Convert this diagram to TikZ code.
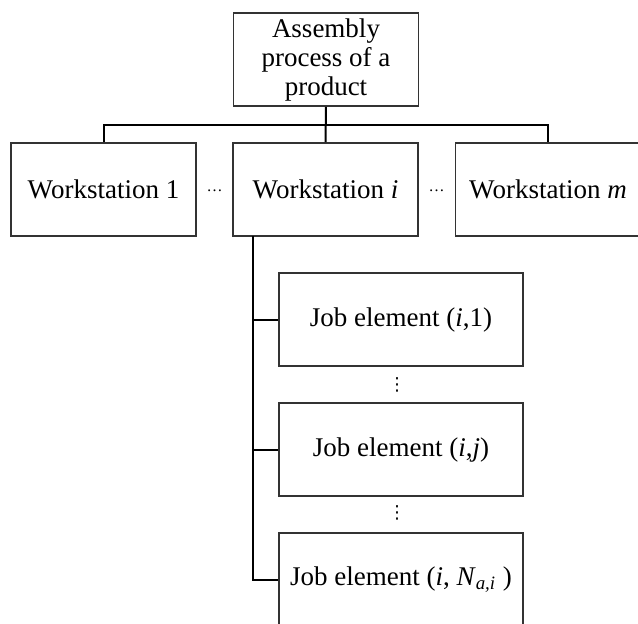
\documentclass[tikz,border=0pt]{standalone}
\usepackage{fontspec}
\setmainfont{Liberation Serif}
\newfontfamily\symfont{DejaVu Sans}
\usepackage{tikz}

\begin{document}
\begin{tikzpicture}[x=0.5pt,y=-0.5pt,
  box/.style={draw=black!80,line width=0.8pt,align=center,inner sep=0pt,
    font=\fontsize{13.5}{14.5}\selectfont},
  wsbox/.style={box,minimum width=92.5pt,minimum height=46.5pt},
  jobbox/.style={box,minimum width=122pt,minimum height=46.5pt},
  link/.style={draw=black,line width=1pt}]
\useasboundingbox (0,0) rectangle (638,623);
\clip (0,0) rectangle (638,623);
\node[wsbox] (prod) at (326,59.5) {Assembly\\process of a\\product};
\node[wsbox] (ws1) at (103.5,189.5) {Workstation 1};
\node[wsbox] (wsi) at (325.5,189.5) {Workstation \textit{i}};
\node[wsbox] (wsm) at (548,189.5) {Workstation \textit{m}};
\node (dots1) at (214.5,191) {\footnotesize\ldots};
\node (dots2) at (436.5,191) {\footnotesize\ldots};
\node[jobbox] (job1) at (401,319.5) {Job element (\textit{i},1)};
\node[jobbox] (jobj) at (401,449.5) {Job element (\textit{i},\textit{j})};
\node[jobbox] (jobn) at (401,579.5) {Job element (\textit{i}, \textit{N}\textsubscript{\textit{a,i}} )};
\node[inner sep=0pt] (vdots1) at (397,385) {\symfont\small ⋮};
\node[inner sep=0pt] (vdots2) at (397,513) {\symfont\small ⋮};
\coordinate (bus) at (326,125);
\coordinate (trunk) at (253,236);
\draw[link] (prod.south) -- (wsi.north);
\draw[link] (ws1.north) |- (bus) -| (wsm.north);
\draw[link] (trunk) |- (jobn.west);
\draw[link] (trunk |- job1.west) -- (job1.west);
\draw[link] (trunk |- jobj.west) -- (jobj.west);
\end{tikzpicture}
\end{document}
